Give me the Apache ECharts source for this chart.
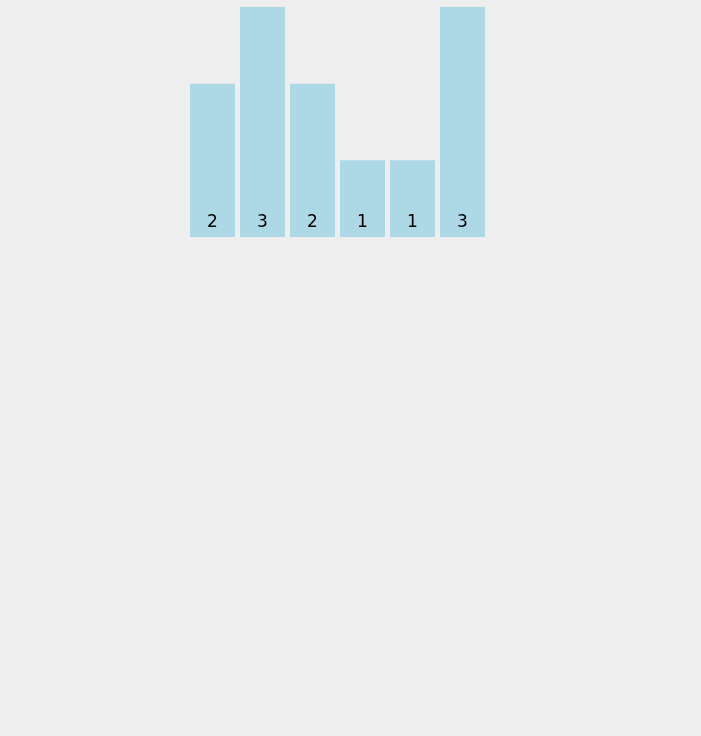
<!DOCTYPE html>
<html><head><meta charset="utf-8">
<script src="https://cdn.jsdelivr.net/npm/echarts@6/dist/echarts.min.js"></script>
<style>html,body{margin:0;padding:0;background:#eeeeee;}#c{width:701px;height:736px;}</style>
</head><body><div id="c"></div>
<script>
const categories = ['a','b','c','d','e','f'];
const values = [2,3,2,1,1,3];
const chart = echarts.init(document.getElementById('c'));
chart.setOption({
  backgroundColor:'#eeeeee',
  animation:false,
  grid:{left:187.5,top:7,width:300,height:230},
  xAxis:{type:'category',data:categories,show:false},
  yAxis:{type:'value',min:0,max:3,show:false},
  series:[{type:'bar',data:values,barCategoryGap:'10%',
    itemStyle:{color:'#add8e6'},
    label:{show:true,position:'insideBottom',distance:6,color:'#000',fontSize:17,fontFamily:'DejaVu Sans'}}]
});
</script></body></html>
